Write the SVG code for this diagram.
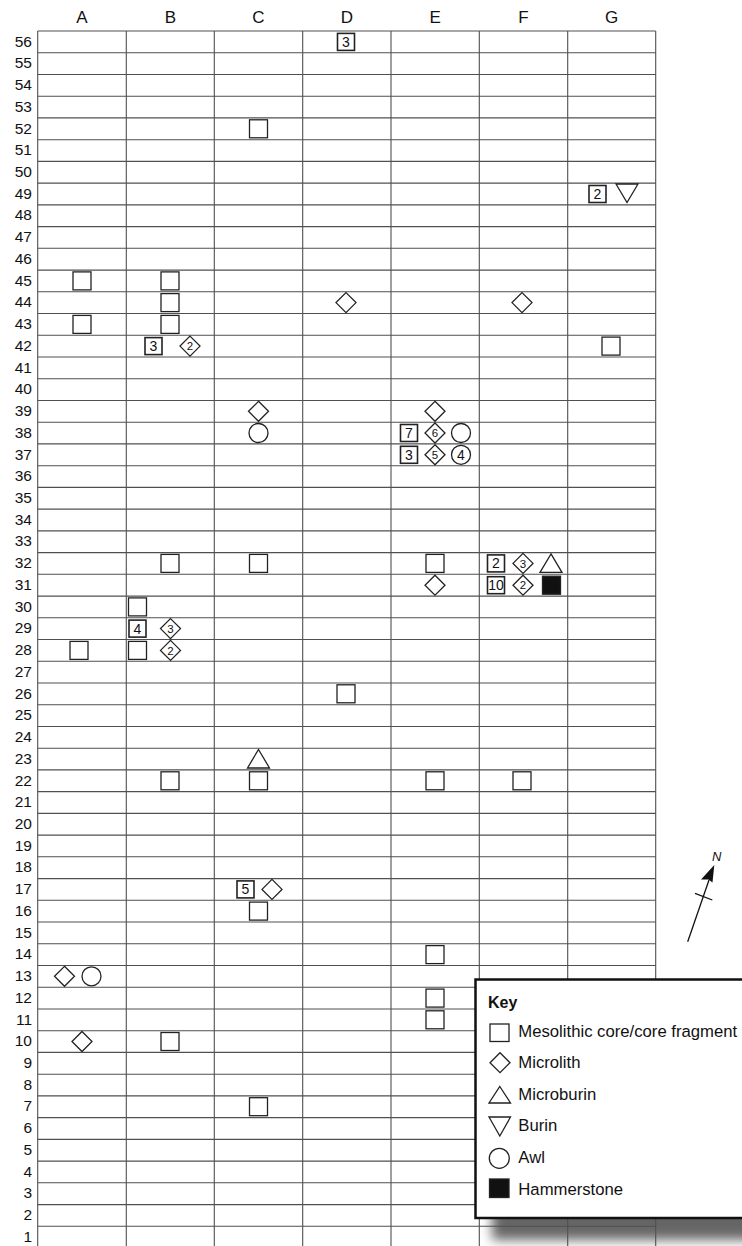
<svg xmlns="http://www.w3.org/2000/svg" xmlns:xlink="http://www.w3.org/1999/xlink" width="742" height="1246" viewBox="0 0 742 1246">
<style>
.g{stroke:#505050;stroke-width:1.1;fill:none}
.s{fill:#fff;stroke:#222;stroke-width:1.3}
.f{fill:#111;stroke:#222;stroke-width:1.3}
.b{stroke-width:1.6}
.n{font-family:"Liberation Sans Narrow","Liberation Sans",Arial,sans-serif;font-size:14px;text-anchor:middle;fill:#111;stroke:none}
.nd{font-family:"Liberation Sans Narrow","Liberation Sans",Arial,sans-serif;font-size:11.5px;text-anchor:middle;fill:#111;stroke:none}
.ax{font-family:"Liberation Sans",Arial,sans-serif;font-size:17px;fill:#111}
.rw{font-family:"Liberation Sans",Arial,sans-serif;font-size:15.5px;fill:#111;text-anchor:end}
.k{font-family:"Liberation Sans",Arial,sans-serif;font-size:16.7px;fill:#111}
</style>
<defs>
<rect id="sq" x="-9" y="-9" width="18" height="18"/>
<rect id="nb" class="b" x="-8.5" y="-8.5" width="17" height="17"/>
<path id="dm" d="M0,-10L10,0L0,10L-10,0Z"/>
<path id="tu" d="M0,-9.5L11,9L-11,9Z"/>
<path id="td" d="M-11,-9L11,-9L0,9.5Z"/>
<circle id="ci" r="9.5"/>
<filter id="blur" x="-20%" y="-20%" width="140%" height="140%"><feGaussianBlur stdDeviation="6"/></filter>
</defs>
<rect x="0" y="0" width="742" height="1246" fill="#fff"/>

<!-- legend shadow -->
<rect x="492" y="1000" width="290" height="240" fill="#000" opacity="0.6" filter="url(#blur)"/>

<!-- grid -->
<g id="grid" class="g">
<path d="M37.7,31V1246M126.3,31V1246M214.3,31V1246M302.7,31V1246M391,31V1246M479.3,31V1246M567.7,31V1246M655.7,31V1246"/>
<path d="M37.7,31H655.7M37.7,52.7H655.7M37.7,74.5H655.7M37.7,96.2H655.7M37.7,117.9H655.7M37.7,139.7H655.7M37.7,161.4H655.7M37.7,183.1H655.7M37.7,204.9H655.7M37.7,226.6H655.7M37.7,248.3H655.7M37.7,270.1H655.7M37.7,291.8H655.7M37.7,313.5H655.7M37.7,335.3H655.7M37.7,357H655.7M37.7,378.7H655.7M37.7,400.5H655.7M37.7,422.2H655.7M37.7,443.9H655.7M37.7,465.7H655.7M37.7,487.4H655.7M37.7,509.1H655.7M37.7,530.9H655.7M37.7,552.6H655.7M37.7,574.3H655.7M37.7,596.1H655.7M37.7,617.8H655.7M37.7,639.5H655.7M37.7,661.3H655.7M37.7,683H655.7M37.7,704.7H655.7M37.7,726.5H655.7M37.7,748.2H655.7M37.7,769.9H655.7M37.7,791.6H655.7M37.7,813.4H655.7M37.7,835.1H655.7M37.7,856.8H655.7M37.7,878.6H655.7M37.7,900.3H655.7M37.7,922H655.7M37.7,943.8H655.7M37.7,965.5H655.7M37.7,987.2H655.7M37.7,1009H655.7M37.7,1030.7H655.7M37.7,1052.4H655.7M37.7,1074.2H655.7M37.7,1095.9H655.7M37.7,1117.6H655.7M37.7,1139.4H655.7M37.7,1161.1H655.7M37.7,1182.8H655.7M37.7,1204.6H655.7M37.7,1226.3H655.7"/>
</g>

<!-- column labels -->
<g id="cols" class="ax" text-anchor="middle">
<text x="82" y="22.5">A</text><text x="170.3" y="22.5">B</text><text x="258.5" y="22.5">C</text><text x="346.8" y="22.5">D</text><text x="435.1" y="22.5">E</text><text x="523.4" y="22.5">F</text><text x="611.7" y="22.5">G</text>
</g>

<!-- row labels -->
<g id="rows" class="rw">
<text x="32" y="46.6">56</text><text x="32" y="68.3">55</text><text x="32" y="90">54</text><text x="32" y="111.8">53</text><text x="32" y="133.5">52</text><text x="32" y="155.2">51</text><text x="32" y="177">50</text><text x="32" y="198.7">49</text><text x="32" y="220.4">48</text><text x="32" y="242.2">47</text><text x="32" y="263.9">46</text><text x="32" y="285.6">45</text><text x="32" y="307.3">44</text><text x="32" y="329.1">43</text><text x="32" y="350.8">42</text><text x="32" y="372.5">41</text><text x="32" y="394.3">40</text><text x="32" y="416">39</text><text x="32" y="437.7">38</text><text x="32" y="459.5">37</text><text x="32" y="481.2">36</text><text x="32" y="502.9">35</text><text x="32" y="524.7">34</text><text x="32" y="546.4">33</text><text x="32" y="568.1">32</text><text x="32" y="589.9">31</text><text x="32" y="611.6">30</text><text x="32" y="633.3">29</text><text x="32" y="655.1">28</text><text x="32" y="676.8">27</text><text x="32" y="698.5">26</text><text x="32" y="720.3">25</text><text x="32" y="742">24</text><text x="32" y="763.7">23</text><text x="32" y="785.5">22</text><text x="32" y="807.2">21</text><text x="32" y="828.9">20</text><text x="32" y="850.7">19</text><text x="32" y="872.4">18</text><text x="32" y="894.1">17</text><text x="32" y="915.8">16</text><text x="32" y="937.6">15</text><text x="32" y="959.3">14</text><text x="32" y="981">13</text><text x="32" y="1002.8">12</text><text x="32" y="1024.5">11</text><text x="32" y="1046.2">10</text><text x="32" y="1068">9</text><text x="32" y="1089.7">8</text><text x="32" y="1111.4">7</text><text x="32" y="1133.2">6</text><text x="32" y="1154.9">5</text><text x="32" y="1176.6">4</text><text x="32" y="1198.4">3</text><text x="32" y="1220.1">2</text><text x="32" y="1241.8">1</text>
</g>

<!-- finds -->
<g class="s">
<g id="D56"><use href="#nb" x="346" y="41.9"/><text class="n" x="346" y="46.9">3</text></g>
<g id="C52"><use href="#sq" x="258.5" y="128.8"/></g>
<g id="G49"><use href="#nb" x="597.5" y="194"/><text class="n" x="597.5" y="199">2</text><use href="#td" x="627" y="193"/></g>
<g id="A45"><use href="#sq" x="82" y="280.9"/></g>
<g id="B45"><use href="#sq" x="170" y="280.9"/></g>
<g id="B44"><use href="#sq" x="170" y="302.6"/></g>
<g id="D44"><use href="#dm" x="346" y="302.6"/></g>
<g id="F44"><use href="#dm" x="522" y="302.6"/></g>
<g id="A43"><use href="#sq" x="82" y="324.4"/></g>
<g id="B43"><use href="#sq" x="170" y="324.4"/></g>
<g id="B42"><use href="#nb" x="153.5" y="346.1"/><text class="n" x="153.5" y="351.1">3</text><use href="#dm" x="190" y="346.1"/><text class="nd" x="190" y="350.2">2</text></g>
<g id="G42"><use href="#sq" x="611" y="346.1"/></g>
<g id="C39"><use href="#dm" x="258.5" y="411.3"/></g>
<g id="E39"><use href="#dm" x="435" y="411.3"/></g>
<g id="C38"><use href="#ci" x="258.5" y="433"/></g>
<g id="E38"><use href="#nb" x="409" y="433"/><text class="n" x="409" y="438">7</text><use href="#dm" x="435" y="433"/><text class="nd" x="435" y="437.1">6</text><use href="#ci" x="461" y="433"/></g>
<g id="E37"><use href="#nb" x="409" y="454.8"/><text class="n" x="409" y="459.8">3</text><use href="#dm" x="435" y="454.8"/><text class="nd" x="435" y="458.9">5</text><use href="#ci" x="461" y="454.8"/><text class="n" x="461" y="459.6">4</text></g>
<g id="B32"><use href="#sq" x="170" y="563.4"/></g>
<g id="C32"><use href="#sq" x="258.5" y="563.4"/></g>
<g id="E32"><use href="#sq" x="435" y="563.4"/></g>
<g id="F32"><use href="#nb" x="496" y="563.4"/><text class="n" x="496" y="568.4">2</text><use href="#dm" x="523" y="563.4"/><text class="nd" x="523" y="567.5">3</text><use href="#tu" x="551" y="563.4"/></g>
<g id="E31"><use href="#dm" x="435" y="585.2"/></g>
<g id="F31"><use href="#nb" x="496" y="585.2"/><text class="n" x="496" y="590.2">10</text><use href="#dm" x="523" y="585.2"/><text class="nd" x="523" y="589.3">2</text><use href="#sq" class="f" x="551.5" y="585.2"/></g>
<g id="B30"><use href="#sq" x="137.5" y="606.9"/></g>
<g id="B29"><use href="#nb" x="137.5" y="628.6"/><text class="n" x="137.5" y="633.6">4</text><use href="#dm" x="170.5" y="628.6"/><text class="nd" x="170.5" y="632.7">3</text></g>
<g id="A28"><use href="#sq" x="79" y="650.4"/></g>
<g id="B28"><use href="#sq" x="137.5" y="650.4"/><use href="#dm" x="170.5" y="650.4"/><text class="nd" x="170.5" y="654.5">2</text></g>
<g id="D26"><use href="#sq" x="346" y="693.8"/></g>
<g id="C23"><use href="#tu" x="258.5" y="759"/></g>
<g id="B22"><use href="#sq" x="170" y="780.8"/></g>
<g id="C22"><use href="#sq" x="258.5" y="780.8"/></g>
<g id="E22"><use href="#sq" x="435" y="780.8"/></g>
<g id="F22"><use href="#sq" x="522" y="780.8"/></g>
<g id="C17"><use href="#nb" x="245.5" y="889.4"/><text class="n" x="245.5" y="894.4">5</text><use href="#dm" x="272" y="889.4"/></g>
<g id="C16"><use href="#sq" x="258.5" y="911.1"/></g>
<g id="E14"><use href="#sq" x="435" y="954.6"/></g>
<g id="A13"><use href="#dm" x="64.5" y="976.3"/><use href="#ci" x="91.5" y="976.3"/></g>
<g id="E12"><use href="#sq" x="435" y="998.1"/></g>
<g id="E11"><use href="#sq" x="435" y="1019.8"/></g>
<g id="A10"><use href="#dm" x="82" y="1041.5"/></g>
<g id="B10"><use href="#sq" x="170" y="1041.5"/></g>
<g id="C7"><use href="#sq" x="258.5" y="1106.7"/></g>
</g>

<!-- north arrow -->
<g id="north">
<line x1="687.7" y1="941.7" x2="709" y2="880" stroke="#111" stroke-width="1.3"/>
<line x1="695" y1="893.3" x2="712.3" y2="900" stroke="#111" stroke-width="1.3"/>
<path d="M714.3,865L712.5,882.5L708.5,879.5L701,879.5Z" fill="#111"/>
<text x="712" y="861" font-family="Liberation Sans,Arial,sans-serif" font-size="13" font-style="italic" fill="#111">N</text>
</g>

<!-- key -->
<g id="key">
<rect x="475.5" y="979.5" width="290" height="238.5" fill="#fff" stroke="#111" stroke-width="2.5"/>
<text x="488" y="1007.5" font-family="Liberation Sans,Arial,sans-serif" font-size="16" font-weight="bold" fill="#111">Key</text>
<g class="s">
<rect x="490" y="1024" width="19" height="17.5"/>
<path d="M500,1052.7L510,1062.7L500,1072.7L490,1062.7Z"/>
<path d="M499.8,1086.5L510.5,1103L489,1103Z"/>
<path d="M489,1117L510.5,1117L499.8,1136Z"/>
<circle cx="499.3" cy="1158.3" r="10"/>
<rect class="f" x="489.5" y="1179" width="19.5" height="18.5"/>
</g>
<text class="k" x="518.3" y="1037">Mesolithic core/core fragment</text>
<text class="k" x="518.3" y="1068">Microlith</text>
<text class="k" x="518.3" y="1099.5">Microburin</text>
<text class="k" x="518.3" y="1131">Burin</text>
<text class="k" x="518.3" y="1163.3">Awl</text>
<text class="k" x="518.3" y="1195">Hammerstone</text>
</g>
</svg>
